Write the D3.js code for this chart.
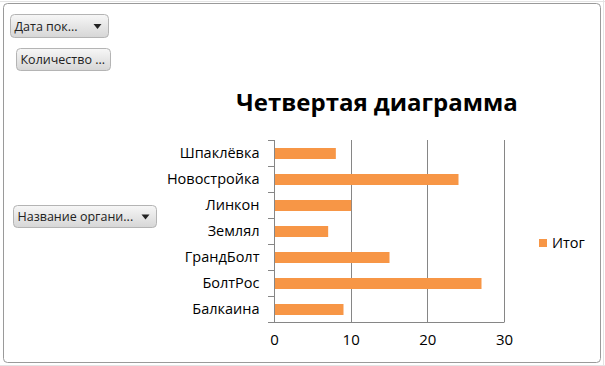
<!DOCTYPE html>
<html><head><meta charset="utf-8">
<script src="https://cdn.jsdelivr.net/npm/d3@7"></script>
<style>
html,body{margin:0;padding:0;background:#fff;}
svg{display:block;}
</style></head>
<body>
<svg id="c" width="605" height="366"></svg>
<script>
const categories = ["Шпаклёвка","Новостройка","Линкон","Землял","ГрандБолт","БолтРос","Балкаина"];
const values = [8,24,10,7,15,27,9];
const xTicks = [0,10,20,30];
const title = "Четвертая диаграмма";
const legendLabel = "Итог";
const pivotButtons = [
  {label:"Дата пок...", arrow:true, x:10, y:14, w:98, h:23},
  {label:"Количество ...", arrow:false, x:16, y:48, w:94, h:22},
  {label:"Название органи...", arrow:true, x:13, y:205, w:143, h:22}
];

const svg = d3.select("#c");
const font = "'Open Sans', 'DejaVu Sans', sans-serif";
const barColor = "#F79646";
const gridColor = "#868686";

// faint spreadsheet grid outside
const bgG = svg.append("g");
bgG.append("line").attr("x1",0).attr("x2",605).attr("y1",1.5).attr("y2",1.5).attr("stroke","#e4e4e4");
bgG.append("line").attr("x1",603.5).attr("x2",603.5).attr("y1",0).attr("y2",366).attr("stroke","#e4e4e4");
bgG.append("line").attr("x1",0).attr("x2",605).attr("y1",365.5).attr("y2",365.5).attr("stroke","#e4e4e4");

// chart frame
svg.append("rect").attr("x",3.5).attr("y",3.5).attr("width",597).attr("height",359)
  .attr("rx",4).attr("fill","#fff").attr("stroke","#9a9a9a").attr("stroke-width",1);

// gradient for buttons
const defs = svg.append("defs");
const grad = defs.append("linearGradient").attr("id","btn").attr("x1",0).attr("y1",0).attr("x2",0).attr("y2",1);
grad.append("stop").attr("offset","0%").attr("stop-color","#f7f7f7");
grad.append("stop").attr("offset","100%").attr("stop-color","#d6d6d6");

const x = d3.scaleLinear().domain([0,30]).range([274,504]);
const y = d3.scaleBand().domain(categories).range([140,322]);

// gridlines
svg.append("g").selectAll("line").data(xTicks.filter(d=>d>0)).join("line")
  .attr("x1",d=>Math.round(x(d))+0.5).attr("x2",d=>Math.round(x(d))+0.5)
  .attr("y1",140).attr("y2",322).attr("stroke",gridColor);

// bars
const barH = 11;
svg.append("g").selectAll("rect").data(categories).join("rect")
  .attr("x",x(0)+0.5).attr("y",(d)=>y(d)+y.bandwidth()/2-barH/2+0.5)
  .attr("width",(d,i)=>x(values[i])-x(0)).attr("height",barH)
  .attr("fill",barColor);

// y axis
const yAxis = d3.axisLeft(y).tickSize(0).tickPadding(15);
const yg = svg.append("g").attr("transform","translate(274.5,0)").call(yAxis);
yg.select(".domain").attr("stroke",gridColor).attr("d","M0,140V322");
yg.selectAll("text").attr("font-family",font).attr("font-size",14.5).attr("fill","#000");
// category boundary ticks
const bounds = categories.map(c=>y(c)).concat([322]);
svg.append("g").selectAll("line").data(bounds).join("line")
  .attr("x1",268).attr("x2",274.5).attr("y1",d=>Math.round(d)+0.5).attr("y2",d=>Math.round(d)+0.5)
  .attr("stroke",gridColor);

// x axis
const xAxis = d3.axisBottom(x).tickValues(xTicks).tickSize(0).tickPadding(12);
const xg = svg.append("g").attr("transform","translate(0,322.5)").call(xAxis);
xg.select(".domain").attr("stroke",gridColor).attr("d","M268,0H504.5");
xg.selectAll("text").attr("font-family",font).attr("font-size",15).attr("fill","#000");

// title
svg.append("text").attr("x",377).attr("y",111).attr("text-anchor","middle")
  .attr("font-family",font).attr("font-weight","bold").attr("font-size",24)
  .attr("fill","#000").text(title);

// legend
svg.append("rect").attr("x",539).attr("y",239).attr("width",8).attr("height",8).attr("fill",barColor);
svg.append("text").attr("x",552).attr("y",248).attr("font-family",font).attr("font-size",14.5)
  .attr("fill","#000").text(legendLabel);

// pivot buttons
const bg = svg.append("g").selectAll("g").data(pivotButtons).join("g")
  .attr("transform",d=>`translate(${d.x+0.5},${d.y+0.5})`);
bg.append("rect").attr("width",d=>d.w).attr("height",d=>d.h).attr("rx",4)
  .attr("fill","url(#btn)").attr("stroke","#b4b4b4");
bg.append("text").attr("x",4).attr("y",d=>d.h/2+4.5).attr("font-family",font).attr("font-size",12.5)
  .attr("fill","#222").text(d=>d.label);
bg.filter(d=>d.arrow).append("path")
  .attr("d",d=>`M${d.w-15},${d.h/2-2}h8l-4,5z`).attr("fill","#222");
</script>
</body></html>
